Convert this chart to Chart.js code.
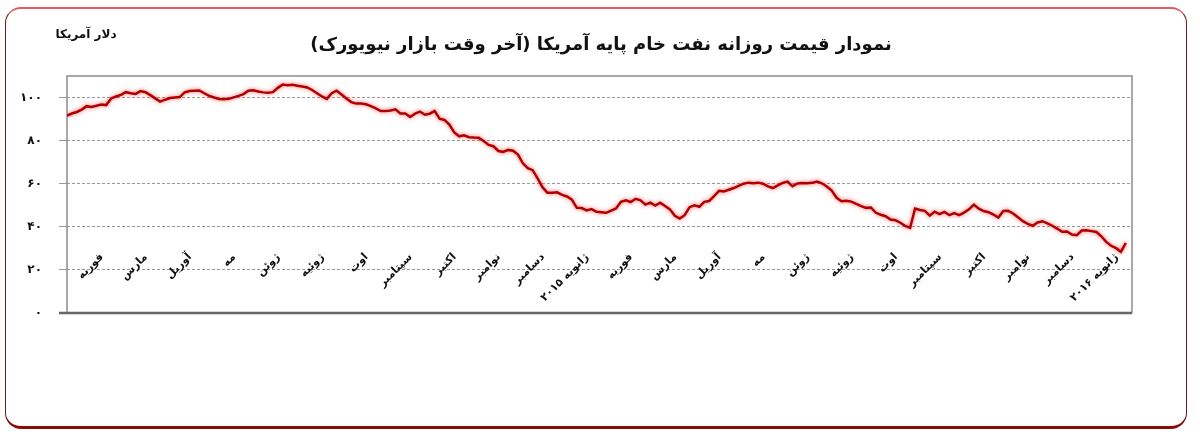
<!DOCTYPE html>
<html lang="fa">
<head>
<meta charset="utf-8">
<script src="https://cdn.jsdelivr.net/npm/chart.js@4.4.1/dist/chart.umd.min.js"></script>
<style>
  body { margin: 0; background: #fff; }
  #wrap { position: relative; width: 1200px; height: 446px; }
  #frame {
    position: absolute; left: 5px; top: 7px; width: 1182px; height: 422px;
    box-sizing: border-box; border-radius: 16px;
    border-top: 2px solid #e25c5c;
    border-left: 1.5px solid #6e1c1c;
    border-right: 1.5px solid #6e1c1c;
    border-bottom: 3px solid #8e0b0b;
  }
  canvas { position: absolute; left: 0; top: 0; }
</style>
</head>
<body>
<div id="wrap">
  <div id="frame"></div>
  <canvas id="oil" width="1200" height="446"></canvas>
</div>
<script>
const title = "نمودار قیمت روزانه نفت خام پایه آمریکا (آخر وقت بازار نیویورک)";
const unit = "دلار آمریکا";

// month tick labels, index 0 = Jan 2014 (not labelled)
const months = [
  "", "فوریه", "مارس", "آوریل", "مه", "ژوئن", "ژوئیه", "اوت", "سپتامبر", "اکتبر", "نوامبر", "دسامبر",
  "ژانویه ۲۰۱۵", "فوریه", "مارس", "آوریل", "مه", "ژوئن", "ژوئیه", "اوت", "سپتامبر", "اکتبر", "نوامبر", "دسامبر",
  "ژانویه ۲۰۱۶"
];
const yLabels = ["۰", "۲۰", "۴۰", "۶۰", "۸۰", "۱۰۰"];

// price, 9 readings per month
const pointsPerMonth = 9;
const prices = [
  91.6, 92.6, 93.3, 94.4, 96.0, 95.6, 96.2, 96.8, 96.5,        // Jan 2014
  99.6, 100.5, 101.2, 102.5, 102.0, 101.7, 103.0, 102.5, 101.1, // Feb
  99.6, 98.1, 99.0, 99.8, 100.0, 100.2, 102.4, 103.0, 103.2,    // Mar
  103.3, 102.0, 100.8, 100.0, 99.3, 99.2, 99.4, 100.1, 100.8,   // Apr
  101.6, 103.2, 103.4, 102.8, 102.4, 102.2, 102.5, 104.5, 106.0,// May
  105.7, 105.9, 105.5, 105.1, 104.7, 103.5, 102.0, 100.5, 99.4, // Jun
  102.0, 103.2, 101.4, 99.6, 97.9, 97.2, 97.2, 96.9, 96.0,      // Jul
  95.0, 93.7, 93.7, 94.0, 94.5, 92.6, 92.6, 91.0, 92.5,         // Aug
  93.5, 92.0, 92.5, 93.8, 90.2, 89.6, 87.5, 83.8, 82.0,         // Sep
  82.5, 81.6, 81.4, 81.3, 79.8, 78.0, 77.4, 75.2, 74.8,         // Oct
  75.7, 75.3, 73.5, 69.5, 67.2, 66.3, 62.5, 58.4, 55.8,         // Nov
  55.8, 56.0, 54.8, 54.1, 52.6, 48.8, 48.7, 47.6, 48.2,         // Dec
  47.0, 46.8, 46.5, 47.5, 48.5, 51.6, 52.3, 51.5, 53.0,         // Jan 2015
  52.3, 50.3, 51.2, 49.9, 51.2, 49.7, 48.1, 45.1, 43.8,         // Feb
  45.4, 49.1, 50.0, 49.3, 51.6, 52.0, 54.2, 56.7, 56.4,         // Mar
  57.2, 58.0, 59.0, 60.0, 60.5, 60.2, 60.5, 60.0, 58.8,         // Apr
  58.0, 59.2, 60.4, 61.0, 58.8, 60.1, 60.3, 60.2, 60.4,         // May
  61.0, 60.2, 58.7, 56.8, 53.5, 51.9, 52.1, 51.7, 50.6,         // Jun
  49.6, 48.8, 49.0, 46.5, 45.6, 44.9, 43.4, 43.1, 41.9,         // Jul
  40.4, 39.5, 48.5, 47.8, 47.4, 45.2, 47.0, 45.9, 46.9,         // Aug
  45.4, 46.4, 45.4, 46.6, 48.1, 50.3, 48.4, 47.3, 46.8,         // Sep
  45.7, 44.3, 47.3, 47.4, 46.2, 44.4, 42.6, 41.4, 40.5,         // Oct
  42.0, 42.6, 41.6, 40.5, 39.2, 37.7, 37.8, 36.4, 36.1,         // Nov
  38.3, 38.4, 38.0, 37.6, 35.6, 33.0, 31.2, 30.1, 28.4,         // Dec
  32.5                                                          // Jan 2016
];

const FONT = "'DejaVu Sans', sans-serif";

// titles + plot box
const decor = {
  id: "decor",
  beforeDatasetsDraw(chart) {
    const { ctx, chartArea: a } = chart;
    ctx.save();
    ctx.strokeStyle = "#8c8c8c";
    ctx.lineWidth = 1.5;
    ctx.beginPath();
    ctx.moveTo(a.left, a.bottom);
    ctx.lineTo(a.left, a.top);
    ctx.lineTo(a.right, a.top);
    ctx.lineTo(a.right, a.bottom);
    ctx.stroke();
    ctx.strokeStyle = "#666";
    ctx.lineWidth = 2.5;
    ctx.beginPath();
    ctx.moveTo(a.left - 8, a.bottom);
    ctx.lineTo(a.right, a.bottom);
    ctx.stroke();
    ctx.restore();
  },
  afterDraw(chart) {
    const ctx = chart.ctx;
    ctx.save();
    ctx.fillStyle = "#111";
    ctx.textBaseline = "middle";
    ctx.textAlign = "center";
    ctx.font = "bold 18px " + FONT;
    ctx.fillText(title, 601, 45);
    ctx.font = "bold 12px " + FONT;
    ctx.fillText(unit, 86, 35);
    ctx.restore();
  }
};

// soft red halo round the line
const glow = {
  id: "glow",
  beforeDatasetDraw(chart) {
    chart.ctx.save();
    chart.ctx.shadowColor = "rgba(255,40,40,0.7)";
    chart.ctx.shadowBlur = 4;
  },
  afterDatasetDraw(chart) {
    chart.ctx.restore();
  }
};

new Chart(document.getElementById("oil"), {
  type: "line",
  data: {
    datasets: [{
      data: prices.map((v, i) => ({ x: i / pointsPerMonth, y: v })),
      borderColor: "#b00000",
      borderWidth: 2.5,
      pointRadius: 0,
      tension: 0
    }]
  },
  options: {
    responsive: false,
    animation: false,
    layout: { padding: { left: 0, right: 68, top: 76, bottom: 133 } },
    plugins: { legend: { display: false }, tooltip: { enabled: false } },
    scales: {
      x: {
        type: "linear",
        min: 0,
        max: 24.14,
        afterBuildTicks: s => { s.ticks = months.map((m, i) => ({ value: i })); },
        afterFit: s => { s.height = 0; },
        grid: { display: false, drawTicks: false },
        border: { display: false },
        ticks: {
          autoSkip: false,
          minRotation: 45,
          maxRotation: 45,
          mirror: true,
          padding: 53,
          color: "#111",
          font: { family: FONT, size: 11, weight: "bold" },
          callback: v => months[v]
        }
      },
      y: {
        min: 0,
        max: 110,
        afterBuildTicks: s => {
          s.ticks = yLabels.map((l, i) => ({ value: i * 20 }));
        },
        afterFit: s => { s.width = 67; },
        grid: { color: "#9a9a9a", lineWidth: 1, tickLength: 8, tickColor: "#9a9a9a" },
        border: { display: false, dash: [3, 2] },
        ticks: {
          padding: 17,
          color: "#111",
          font: { family: FONT, size: 12, weight: "bold" },
          callback: v => yLabels[v / 20]
        }
      }
    }
  },
  plugins: [decor, glow]
});
</script>
</body>
</html>
